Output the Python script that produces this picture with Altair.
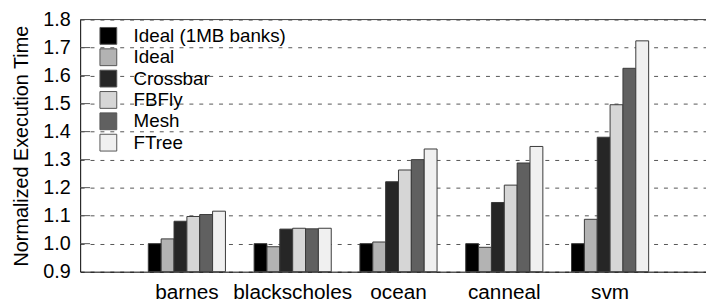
import altair as alt
import pandas as pd

categories = ["barnes", "blackscholes", "ocean", "canneal", "svm"]
series = ["Ideal (1MB banks)", "Ideal", "Crossbar", "FBFly", "Mesh", "FTree"]
colors = ["#000000", "#b3b3b3", "#262626", "#d6d6d6", "#606060", "#f0f0f0"]

ideal_1mb = [1.000, 1.000, 1.000, 1.000, 1.000]
ideal = [1.017, 0.989, 1.006, 0.987, 1.087]
crossbar = [1.080, 1.052, 1.221, 1.147, 1.380]
fbfly = [1.097, 1.055, 1.263, 1.209, 1.496]
mesh = [1.104, 1.053, 1.300, 1.288, 1.626]
ftree = [1.116, 1.055, 1.338, 1.347, 1.724]

y_ticks = [0.9, 1.0, 1.1, 1.2, 1.3, 1.4, 1.5, 1.6, 1.7, 1.8]
inner_ticks = [1.0, 1.1, 1.2, 1.3, 1.4, 1.5, 1.6, 1.7]

values_by_series = [ideal_1mb, ideal, crossbar, fbfly, mesh, ftree]
rows = []
for s, vals in zip(series, values_by_series):
    for c, v in zip(categories, vals):
        rows.append({"bench": c, "series": s, "value": v})
df = pd.DataFrame(rows)

FONT = "Liberation Sans"
W, H = 633, 255

yscale = alt.Scale(domain=[0.9, 1.8], nice=False, zero=False)


def y_axis():
    return alt.Axis(
        values=y_ticks, format=".1f", title="Normalized Execution Time",
        grid=True, gridDash=[4, 6], gridColor="#555555", gridWidth=1,
        ticks=False, labelFontSize=20, labelPadding=10, labelFont=FONT,
        labelColor="#000000", labelOverlap=False,
        titleFont=FONT, titleFontSize=20,
        titleFontWeight="normal", titleColor="#000000", titlePadding=11,
        domainColor="#000000", domainWidth=1,
    )


bars = alt.Chart(df).mark_bar(stroke="#3a3a3a", strokeWidth=1).encode(
    x=alt.X(
        "bench:N",
        sort=categories,
        scale=alt.Scale(paddingInner=0.271, paddingOuter=0.593, align=0.543),
        axis=alt.Axis(
            title=None, labelAngle=0, ticks=False, labelFontSize=21,
            labelPadding=10, domainColor="#000000", domainWidth=1,
            labelColor="#000000", labelFont=FONT,
        ),
    ),
    xOffset=alt.XOffset(
        "series:N", sort=series,
        scale=alt.Scale(paddingInner=0, paddingOuter=0),
    ),
    y=alt.Y("value:Q", scale=yscale, axis=y_axis()),
    y2=alt.datum(0.9),
    color=alt.Color(
        "series:N",
        sort=series,
        scale=alt.Scale(domain=series, range=colors),
        legend=alt.Legend(
            title=None, orient="none", legendX=19, legendY=7,
            symbolType="square", symbolSize=289, symbolStrokeColor="#555555",
            symbolStrokeWidth=1, labelFontSize=19, labelFont=FONT,
            labelColor="#000000", labelOffset=16, rowPadding=0.6,
        ),
    ),
)

tick_df = pd.DataFrame({"t": inner_ticks})
inner = alt.Chart(tick_df).mark_rule(color="#555555", strokeWidth=1).encode(
    y=alt.Y("t:Q", scale=yscale, axis=y_axis()),
    x=alt.value(0),
    x2=alt.value(10),
)

top_df = pd.DataFrame({"t": [1.8]})
top = alt.Chart(top_df).mark_rule(color="#444444", strokeWidth=1).encode(
    y=alt.Y("t:Q", scale=yscale, axis=y_axis()),
    x=alt.value(0),
    x2=alt.value(W),
)

chart = alt.layer(bars, inner, top).properties(
    width=W, height=H,
    padding={"left": 73, "top": 10, "right": 0, "bottom": 32},
    autosize=alt.AutoSizeParams(type="none"),
).configure_view(stroke=None)

chart.save("out.html", embed_options={"renderer": "svg", "actions": False})
